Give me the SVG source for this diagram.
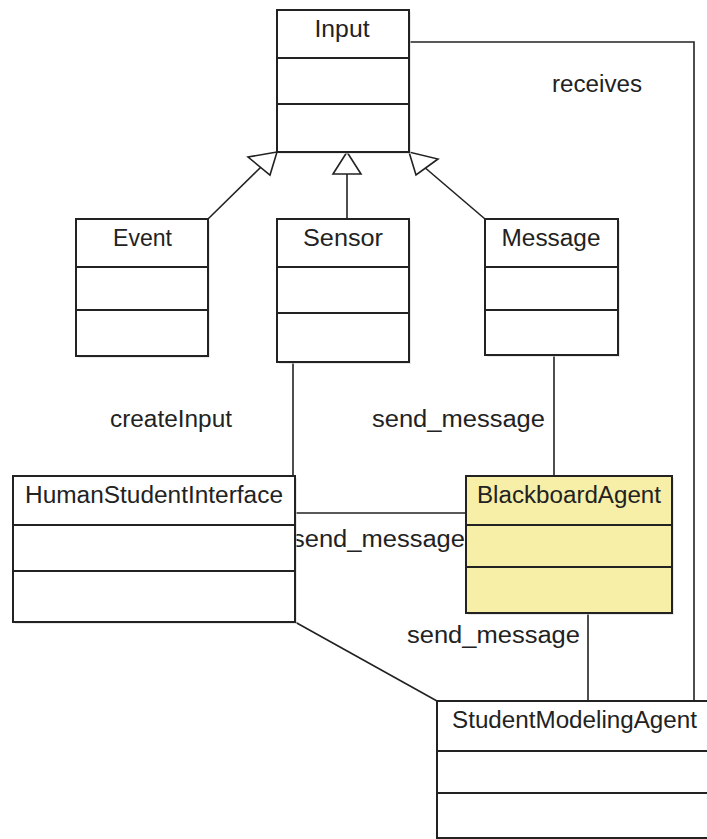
<svg xmlns="http://www.w3.org/2000/svg" width="707" height="839" viewBox="0 0 707 839">
  <style>
    .box { fill: #ffffff; stroke: #222222; stroke-width: 2; }
    .hl { fill: #f7efa8; }
    .shadow { fill: #d8d8d8; opacity: 0.6; }
    .div { stroke: #222222; stroke-width: 2; }
    .edge { fill: none; stroke: #222222; stroke-width: 1.6; }
    .head { fill: #ffffff; stroke: #222222; stroke-width: 1.6; }
    text { font-family: "Liberation Sans", Arial, sans-serif; font-size: 23px; fill: #222222; }
    .c { text-anchor: middle; }
  </style>

  <rect width="707" height="839" fill="#ffffff"/>

  <!-- associations and generalizations -->
  <g id="connectors">
    <!-- Input receives (to StudentModelingAgent) -->
    <polyline class="edge" points="409,42 694,42 694,701"/>
    <!-- generalizations -->
    <line class="edge" x1="208" y1="219" x2="262" y2="166"/>
    <polygon class="head" points="277,152 248,157 270,175"/>
    <line class="edge" x1="347" y1="219" x2="347" y2="174"/>
    <polygon class="head" points="347,152 333,174 361,174"/>
    <line class="edge" x1="485" y1="219" x2="423" y2="166"/>
    <polygon class="head" points="409,152 416,175 438,159"/>
    <!-- Sensor - HumanStudentInterface -->
    <line class="edge" x1="293" y1="362" x2="293" y2="476"/>
    <!-- Message - BlackboardAgent -->
    <line class="edge" x1="554" y1="355" x2="554" y2="476"/>
    <!-- HumanStudentInterface - BlackboardAgent -->
    <line class="edge" x1="295" y1="513" x2="466" y2="513"/>
    <!-- BlackboardAgent - StudentModelingAgent -->
    <line class="edge" x1="588" y1="613" x2="588" y2="701"/>
    <!-- HumanStudentInterface - StudentModelingAgent -->
    <line class="edge" x1="295" y1="622" x2="437" y2="701"/>
  </g>

  <g id="labels">
    <text x="597" y="92" class="c" textLength="90" lengthAdjust="spacingAndGlyphs">receives</text>
    <text x="171" y="427" class="c" textLength="122" lengthAdjust="spacingAndGlyphs">createInput</text>
    <text x="458.5" y="427" class="c" textLength="173" lengthAdjust="spacingAndGlyphs">send_message</text>
    <text x="378.5" y="547" class="c" textLength="173" lengthAdjust="spacingAndGlyphs">send_message</text>
    <text x="493.5" y="643" class="c" textLength="173" lengthAdjust="spacingAndGlyphs">send_message</text>
  </g>

  <g id="Input">
    <rect class="shadow" x="279" y="12" width="132" height="142"/>
    <rect class="box" x="277" y="10" width="132" height="142"/>
    <line class="div" x1="277" y1="58" x2="409" y2="58"/>
    <line class="div" x1="277" y1="104" x2="409" y2="104"/>
    <text x="342" y="37" class="c" textLength="55" lengthAdjust="spacingAndGlyphs">Input</text>
  </g>

  <g id="Event">
    <rect class="shadow" x="78" y="221" width="132" height="137"/>
    <rect class="box" x="76" y="219" width="132" height="137"/>
    <line class="div" x1="76" y1="267" x2="208" y2="267"/>
    <line class="div" x1="76" y1="310" x2="208" y2="310"/>
    <text x="142.5" y="246" class="c" textLength="59" lengthAdjust="spacingAndGlyphs">Event</text>
  </g>

  <g id="Sensor">
    <rect class="shadow" x="279" y="221" width="132" height="143"/>
    <rect class="box" x="277" y="219" width="132" height="143"/>
    <line class="div" x1="277" y1="267" x2="409" y2="267"/>
    <line class="div" x1="277" y1="313" x2="409" y2="313"/>
    <text x="343" y="246" class="c" textLength="80" lengthAdjust="spacingAndGlyphs">Sensor</text>
  </g>

  <g id="Message">
    <rect class="shadow" x="487" y="221" width="133" height="136"/>
    <rect class="box" x="485" y="219" width="133" height="136"/>
    <line class="div" x1="485" y1="267" x2="618" y2="267"/>
    <line class="div" x1="485" y1="310" x2="618" y2="310"/>
    <text x="551" y="246" class="c" textLength="99" lengthAdjust="spacingAndGlyphs">Message</text>
  </g>

  <g id="HumanStudentInterface">
    <rect class="shadow" x="15" y="478" width="282" height="146"/>
    <rect class="box" x="13" y="476" width="282" height="146"/>
    <line class="div" x1="13" y1="525" x2="295" y2="525"/>
    <line class="div" x1="13" y1="571" x2="295" y2="571"/>
    <text x="154" y="503" class="c" textLength="258" lengthAdjust="spacingAndGlyphs">HumanStudentInterface</text>
  </g>

  <g id="BlackboardAgent">
    <rect class="shadow" x="468" y="478" width="206" height="137"/>
    <rect class="box hl" x="466" y="476" width="206" height="137"/>
    <line class="div" x1="466" y1="525" x2="672" y2="525"/>
    <line class="div" x1="466" y1="567" x2="672" y2="567"/>
    <text x="569" y="503" class="c" textLength="184" lengthAdjust="spacingAndGlyphs">BlackboardAgent</text>
  </g>

  <g id="StudentModelingAgent">
    <rect class="box" x="437" y="701" width="280" height="137"/>
    <line class="div" x1="437" y1="751" x2="717" y2="751"/>
    <line class="div" x1="437" y1="793" x2="717" y2="793"/>
    <text x="452" y="728" textLength="245" lengthAdjust="spacingAndGlyphs">StudentModelingAgent</text>
  </g>
</svg>
